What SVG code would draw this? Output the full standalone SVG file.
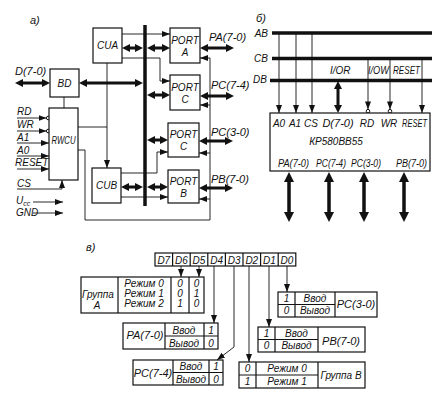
<svg xmlns="http://www.w3.org/2000/svg" width="442" height="408" viewBox="0 0 442 408">
<defs>
<style>
text{font-family:"Liberation Sans Narrow","Liberation Sans",Arial,sans-serif;font-style:italic;font-size:10px;fill:#111}
.m{text-anchor:middle}
.s{font-size:10px}
.l{font-size:11px}
.box{fill:#fff;stroke:#111;stroke-width:1.2}
.cell{fill:none;stroke:#111;stroke-width:1.2}
.ln{fill:none;stroke:#111;stroke-width:0.9}
.th{fill:none;stroke:#111;stroke-width:3}
.tb{fill:none;stroke:#111;stroke-width:3.5}
.bus{fill:none;stroke:#111;stroke-width:3.5}
.circ{fill:#fff;stroke:#111;stroke-width:1}
</style>
<marker id="a" viewBox="0 0 8 6" refX="8" refY="3" markerWidth="8" markerHeight="6" markerUnits="userSpaceOnUse" orient="auto"><path d="M0,0L8,3L0,6z" fill="#111"/></marker>
<marker id="b" viewBox="0 0 8 8" refX="2" refY="4" markerWidth="8" markerHeight="8" markerUnits="userSpaceOnUse" orient="auto-start-reverse"><path d="M0,0L8,4L0,8z" fill="#111"/></marker>
<marker id="c" viewBox="0 0 10 10" refX="2" refY="5" markerWidth="10" markerHeight="10" markerUnits="userSpaceOnUse" orient="auto-start-reverse"><path d="M0,0L10,5L0,10z" fill="#111"/></marker>
</defs>
<rect width="442" height="408" fill="#fff"/>

<!-- panel labels -->
<text x="30" y="24" class="l">а)</text>
<text x="256" y="22" class="l">б)</text>
<text x="86" y="251" class="l">в)</text>

<g id="connectors">
  <!-- panel a thick bus -->
  <path class="bus" d="M145,25V206"/>
  <!-- panel a double arrows -->
  <g marker-start="url(#b)" marker-end="url(#b)">
    <path class="th" d="M21,83H44"/>
    <path class="th" d="M85,83H137"/>
    <path class="th" d="M128,48H137"/>
    <path class="th" d="M153,48H164"/>
    <path class="th" d="M153,95H164"/>
    <path class="th" d="M153,140H162"/>
    <path class="th" d="M127,187H137"/>
    <path class="th" d="M153,187H162"/>
    <path class="th" d="M206,48H228"/>
    <path class="th" d="M206,96H228"/>
    <path class="th" d="M205,141H227"/>
    <path class="th" d="M205,188H227"/>
  </g>
  <!-- panel a thin arrows -->
  <g marker-end="url(#a)">
    <path class="ln" d="M122,34H170"/>
    <path class="ln" d="M122,58H160V81H170"/>
    <path class="ln" d="M107,63V168"/>
    <path class="ln" d="M78,150H85V220H210V58H200"/>
    <path class="ln" d="M210,105H200"/>
    <path class="ln" d="M210,153H199"/>
    <path class="ln" d="M210,199H199"/>
    <path class="ln" d="M121,173H157V152H168"/>
    <path class="ln" d="M121,197H168"/>
    <path class="ln" d="M17,118H46.5"/>
    <path class="ln" d="M17,131H46.5"/>
    <path class="ln" d="M17,143H49"/>
    <path class="ln" d="M17,156H49"/>
    <path class="ln" d="M17,169H49"/>
    <path class="ln" d="M17,189H62V180"/>
    <path class="ln" d="M33,202H63"/>
    <path class="ln" d="M33,213H63"/>
  </g>
  <path class="ln" d="M78,127H107"/>
  <path class="ln" d="M64,97V108"/>
  <circle class="circ" cx="48.2" cy="118" r="1.8"/>
  <circle class="circ" cx="48.2" cy="131" r="1.8"/>

  <!-- panel b buses -->
  <path class="bus" d="M272,33H432"/>
  <path class="bus" d="M272,58.5H432"/>
  <path class="bus" d="M270,80.5H432"/>
  <g marker-end="url(#a)">
    <path class="ln" d="M279,33V113"/>
    <path class="ln" d="M296,33V113"/>
    <path class="ln" d="M312,33V113"/>
    <path class="ln" d="M368,58.5V109.4"/>
    <path class="ln" d="M390,58.5V109.4"/>
    <path class="ln" d="M422,58.5V113"/>
  </g>
  <circle class="circ" cx="368" cy="111.2" r="1.8"/>
  <circle class="circ" cx="390" cy="111.2" r="1.8"/>
  <path class="th" d="M338,87V107" marker-start="url(#b)" marker-end="url(#b)"/>
  <g marker-start="url(#c)" marker-end="url(#c)">
    <path class="tb" d="M289,180V214"/>
    <path class="tb" d="M329,180V214"/>
    <path class="tb" d="M364,180V214"/>
    <path class="tb" d="M404,180V214"/>
  </g>

  <!-- panel c arrows -->
  <g marker-end="url(#a)">
    <path class="ln" d="M181,266V277"/>
    <path class="ln" d="M199,266V277"/>
    <path class="ln" d="M214,266V323"/>
    <path class="ln" d="M234,266V347L217,360"/>
    <path class="ln" d="M249,266V362"/>
    <path class="ln" d="M269,266V327"/>
    <path class="ln" d="M287,266V292"/>
  </g>
</g>

<!-- panel a nodes -->
<g id="cua"><rect class="box" x="93" y="28" width="29" height="35"/><text x="107.5" y="49" class="m">CUA</text></g>
<g id="bd"><rect class="box" x="50" y="69" width="29" height="28"/><text x="64.5" y="87" class="m">BD</text></g>
<g id="rwcu"><rect class="box" x="49" y="108" width="29" height="72"/><text x="51.5" y="144" textLength="24" lengthAdjust="spacingAndGlyphs">RWCU</text></g>
<g id="cub"><rect class="box" x="92" y="168" width="29" height="35"/><text x="106.5" y="189" class="m">CUB</text></g>
<g id="porta"><rect class="box" x="170" y="28" width="30" height="35"/><text x="185" y="44" class="m">PORT</text><text x="185" y="56" class="m">A</text></g>
<g id="portc1"><rect class="box" x="170" y="75" width="30" height="35"/><text x="185" y="91" class="m">PORT</text><text x="185" y="103" class="m">C</text></g>
<g id="portc2"><rect class="box" x="168" y="123" width="31" height="34"/><text x="183.5" y="138" class="m">PORT</text><text x="183.5" y="150" class="m">C</text></g>
<g id="portb"><rect class="box" x="168" y="170" width="31" height="33"/><text x="183.5" y="185" class="m">PORT</text><text x="183.5" y="197" class="m">B</text></g>

<g id="labels-a">
  <text x="15" y="75" class="l">D(7-0)</text>
  <text x="209" y="41" class="l">PA(7-0)</text>
  <text x="211" y="89" class="l">PC(7-4)</text>
  <text x="211" y="136" class="l">PC(3-0)</text>
  <text x="211" y="183" class="l">PB(7-0)</text>
  <text x="17" y="115">RD</text>
  <text x="17" y="128">WR</text>
  <text x="17" y="141">A1</text>
  <text x="17" y="154">A0</text>
  <text x="15" y="166">RESET</text>
  <text x="17" y="187">CS</text>
  <text x="16" y="204">U<tspan dy="2" font-size="7">cc</tspan></text>
  <text x="16" y="216">GND</text>
</g>

<!-- panel b -->
<g id="buses-b">
  <text x="268" y="37" text-anchor="end">AB</text>
  <text x="268" y="62" text-anchor="end">CB</text>
  <text x="267" y="83" text-anchor="end">DB</text>
  <text x="330" y="74">I/OR</text>
  <text x="368" y="74" textLength="21" lengthAdjust="spacingAndGlyphs">I/OW</text>
  <text x="393" y="74" textLength="27" lengthAdjust="spacingAndGlyphs">RESET</text>
</g>
<g id="chip">
  <rect class="box" x="270" y="113" width="160" height="58"/>
  <text x="279" y="127" class="m">A0</text>
  <text x="295" y="127" class="m">A1</text>
  <text x="311" y="127" class="m">CS</text>
  <text x="338" y="127" class="m l">D(7-0)</text>
  <text x="367" y="127" class="m">RD</text>
  <text x="389" y="127" class="m">WR</text>
  <text x="402" y="127" textLength="25" lengthAdjust="spacingAndGlyphs">RESET</text>
  <text x="336" y="145" class="m">КР580ВВ55</text>
  <text x="278" y="167" textLength="31" lengthAdjust="spacingAndGlyphs">PA(7-0)</text>
  <text x="316" y="167" textLength="30" lengthAdjust="spacingAndGlyphs">PC(7-4)</text>
  <text x="351" y="167" textLength="30" lengthAdjust="spacingAndGlyphs">PC(3-0)</text>
  <text x="396" y="167" textLength="31" lengthAdjust="spacingAndGlyphs">PB(7-0)</text>
</g>

<!-- panel c -->
<g id="register">
  <rect class="cell" x="155" y="253" width="140.8" height="13"/>
  <path class="cell" d="M172.6,253V266M190.2,253V266M207.8,253V266M225.4,253V266M243,253V266M260.6,253V266M278.2,253V266"/>
  <text x="163.8" y="263.5" class="m s">D7</text>
  <text x="181.4" y="263.5" class="m s">D6</text>
  <text x="199" y="263.5" class="m s">D5</text>
  <text x="216.6" y="263.5" class="m s">D4</text>
  <text x="234.2" y="263.5" class="m s">D3</text>
  <text x="251.8" y="263.5" class="m s">D2</text>
  <text x="269.4" y="263.5" class="m s">D1</text>
  <text x="287" y="263.5" class="m s">D0</text>
</g>
<g id="group-a">
  <rect class="cell" x="81" y="277" width="123" height="36"/>
  <path class="cell" d="M118,277V313M171,277V313M189,277V313"/>
  <text x="98" y="298" class="m s">Группа</text>
  <text x="97" y="309" class="m s">А</text>
  <text x="144" y="287" class="m s">Режим 0</text>
  <text x="144" y="297" class="m s">Режим 1</text>
  <text x="144" y="307" class="m s">Режим 2</text>
  <text x="180" y="287" class="m s">0</text>
  <text x="180" y="297" class="m s">0</text>
  <text x="180" y="307" class="m s">1</text>
  <text x="196.5" y="287" class="m s">0</text>
  <text x="196.5" y="297" class="m s">1</text>
  <text x="196.5" y="307" class="m s">0</text>
</g>
<g id="pa-table">
  <rect class="cell" x="123" y="323" width="95" height="26"/>
  <path class="cell" d="M165,323V349M204,323V349M165,336H218"/>
  <text x="145" y="339" class="m l">PA(7-0)</text>
  <text x="184" y="334" class="m s">Ввод</text>
  <text x="184" y="347" class="m s">Вывод</text>
  <text x="211" y="334" class="m s">1</text>
  <text x="211" y="347" class="m s">0</text>
</g>
<g id="pc74-table">
  <rect class="cell" x="133" y="360" width="90" height="25"/>
  <path class="cell" d="M173,360V385M209,360V385M173,372.5H223"/>
  <text x="153" y="377" class="m l">PC(7-4)</text>
  <text x="191" y="370" class="m s">Ввод</text>
  <text x="191" y="383" class="m s">Вывод</text>
  <text x="216" y="370" class="m s">1</text>
  <text x="216" y="383" class="m s">0</text>
</g>
<g id="pc30-table">
  <rect class="cell" x="278" y="292" width="99" height="25"/>
  <path class="cell" d="M295,292V317M335,292V317M278,304.5H335"/>
  <text x="286.5" y="301.5" class="m s">1</text>
  <text x="286.5" y="314" class="m s">0</text>
  <text x="315" y="301.5" class="m s">Ввод</text>
  <text x="315" y="314" class="m s">Вывод</text>
  <text x="356" y="308" class="m l">PC(3-0)</text>
</g>
<g id="pb-table">
  <rect class="cell" x="258" y="327" width="107" height="25"/>
  <path class="cell" d="M275,327V352M318,327V352M258,339.5H318"/>
  <text x="266.5" y="336.5" class="m s">1</text>
  <text x="266.5" y="349" class="m s">0</text>
  <text x="296.5" y="336.5" class="m s">Ввод</text>
  <text x="296.5" y="349" class="m s">Вывод</text>
  <text x="341" y="345" class="m l">PB(7-0)</text>
</g>
<g id="group-b">
  <rect class="cell" x="239" y="362" width="126" height="26"/>
  <path class="cell" d="M256,362V388M318,362V388M239,375H318"/>
  <text x="247.5" y="372" class="m s">0</text>
  <text x="247.5" y="385" class="m s">1</text>
  <text x="287" y="372" class="m s">Режим 0</text>
  <text x="287" y="385" class="m s">Режим 1</text>
  <text x="341" y="379" class="m">Группа В</text>
</g>
</svg>
